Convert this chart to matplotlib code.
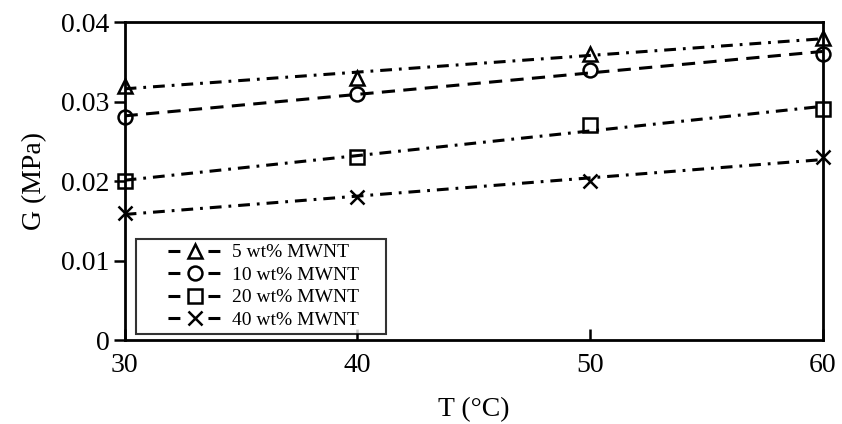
import numpy as np
import matplotlib.pyplot as plt

plt.rcParams['font.family'] = ['Liberation Serif', 'DejaVu Serif']
plt.rcParams['lines.scale_dashes'] = False

temps = [30, 40, 50, 60]
g_5 = [0.032, 0.033, 0.036, 0.038]
g_10 = [0.028, 0.031, 0.034, 0.036]
g_20 = [0.020, 0.023, 0.027, 0.029]
g_40 = [0.016, 0.018, 0.020, 0.023]
labels = ["5 wt% MWNT", "10 wt% MWNT", "20 wt% MWNT", "40 wt% MWNT"]
yticks = [0, 0.01, 0.02, 0.03, 0.04]
ytick_labels = ["0", "0.01", "0.02", "0.03", "0.04"]

dashdot = (0, (8.5, 5, 2, 5))
dashed = (0, (9.5, 6))
styles = [("^", dashdot), ("o", dashed), ("s", dashdot), ("x", dashdot)]

fig = plt.figure(figsize=(8.42, 4.24), dpi=100)
ax = fig.add_axes([0.148, 0.198, 0.829, 0.750])

x = np.array(temps, dtype=float)
for ys, (mk, ls) in zip([g_5, g_10, g_20, g_40], styles):
    # linear trend line through the measured points
    coef = np.polyfit(x, ys, 1)
    ax.plot(x, np.polyval(coef, x), color="black", lw=2.2, linestyle=ls)
    ax.plot(x, ys, linestyle="none", marker=mk, markersize=10,
            markerfacecolor="none", markeredgecolor="black",
            markeredgewidth=1.8, clip_on=False)

# legend handles: blank, dash, marker, dash, blank
handle_ls = (58, (8.6, 20.2, 8.6, 40))
handles = []
for mk, ls in styles:
    h, = ax.plot([], [], color="black", lw=2.2, linestyle=handle_ls,
                 marker=mk, markersize=10, markerfacecolor="none",
                 markeredgecolor="black", markeredgewidth=1.8)
    handles.append(h)
leg = ax.legend(handles, labels, loc="lower left",
                bbox_to_anchor=(0.017, 0.02, 0.358, 0.3), mode="expand",
                fontsize=14, frameon=True, fancybox=False, edgecolor="black",
                handlelength=5.55, borderpad=0.25, labelspacing=0.25,
                handletextpad=-0.87, borderaxespad=0)
leg.get_frame().set_linewidth(1.5)

ax.set_xlim(30, 60)
ax.set_ylim(0, 0.04)
ax.set_xticks(temps)
ax.set_yticks(yticks)
ax.set_yticklabels(ytick_labels)
ax.tick_params(axis="y", direction="out", length=8, width=1.8, labelsize=20, pad=3)
ax.tick_params(axis="x", direction="in", length=8, width=1.8, labelsize=20, pad=9)
for s in ax.spines.values():
    s.set_linewidth(2)
ax.set_xlabel("T (°C)", fontsize=20, labelpad=14)
ax.set_ylabel("G (MPa)", fontsize=20, labelpad=10)

fig.savefig("out.png", dpi=100)
